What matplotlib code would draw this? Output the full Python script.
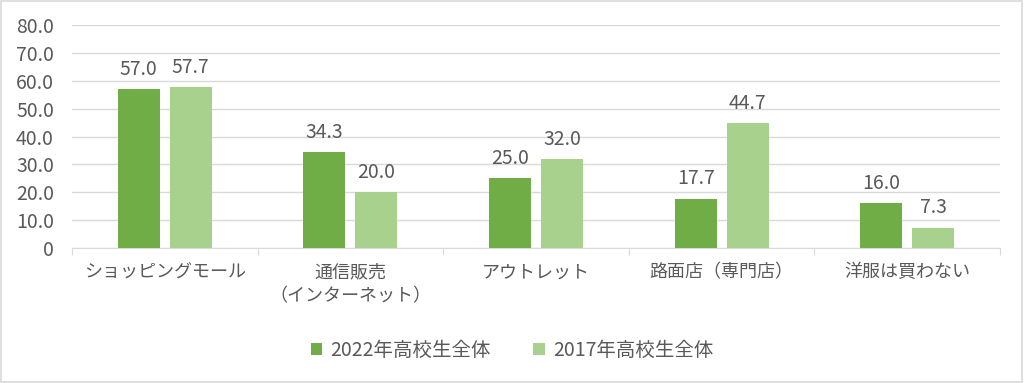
import numpy as np
import matplotlib.pyplot as plt
from matplotlib.patches import Rectangle

plt.rcParams['font.family'] = ['Noto Sans CJK JP', 'DejaVu Sans']

# data
categories = ['ショッピングモール', '通信販売\n（インターネット）', 'アウトレット', '路面店（専門店）', '洋服は買わない']
vals_2022 = [57.0, 34.3, 25.0, 17.7, 16.0]
vals_2017 = [57.7, 20.0, 32.0, 44.7, 7.3]
series_names = ['2022年高校生全体', '2017年高校生全体']

c_dark = '#70ad47'
c_light = '#a9d18e'
txt = '#595959'

fig = plt.figure(figsize=(10.24, 3.83), dpi=100)
ax = fig.add_axes([0.0703, 0.3525, 0.9063, 0.5822])

x = np.arange(len(categories))
w = 0.226
off = 0.14
b1 = ax.bar(x - off, vals_2022, w, color=c_dark, label=series_names[0], zorder=3)
b2 = ax.bar(x + off, vals_2017, w, color=c_light, label=series_names[1], zorder=3)

for bars, vals in [(b1, vals_2022), (b2, vals_2017)]:
    for r, v in zip(bars, vals):
        ax.text(r.get_x() + r.get_width() / 2, v + 3.3, f'{v:.1f}',
                ha='center', va='bottom', fontsize=14, color=txt)

ax.set_xlim(-0.5, len(categories) - 0.5)
ax.set_ylim(0, 80)
ax.set_yticks(np.arange(0, 81, 10))
ax.set_yticklabels(['0'] + [f'{v:.1f}' for v in np.arange(10, 81, 10)])
ax.yaxis.grid(True, color='#d9d9d9', linewidth=1, zorder=0)
ax.tick_params(axis='y', length=0, labelsize=14, labelcolor=txt, pad=13)

# category boundaries as ticks
ax.set_xticks(np.arange(-0.5, len(categories), 1))
ax.set_xticklabels([])
ax.set_xticks(x, minor=True)
ax.set_xticklabels(categories, minor=True, fontsize=13, color=txt, linespacing=1.4)
ax.tick_params(axis='x', which='major', length=5, color='#d9d9d9')
ax.tick_params(axis='x', which='minor', length=0, pad=11)

for s in ['top', 'right', 'left']:
    ax.spines[s].set_visible(False)
ax.spines['bottom'].set_color('#d9d9d9')

leg = fig.legend(handles=[b1, b2], loc='center', bbox_to_anchor=(0.5, 0.085), ncol=2,
                 frameon=False, fontsize=14, handlelength=0.6, handleheight=0.6,
                 handletextpad=0.4, columnspacing=2.2)
for t in leg.get_texts():
    t.set_color(txt)

fig.patches.append(Rectangle((0.001, 0.002), 0.997, 0.995, transform=fig.transFigure,
                             fill=False, edgecolor='#d9d9d9', linewidth=1.2))

fig.savefig('out.png', dpi=100)
